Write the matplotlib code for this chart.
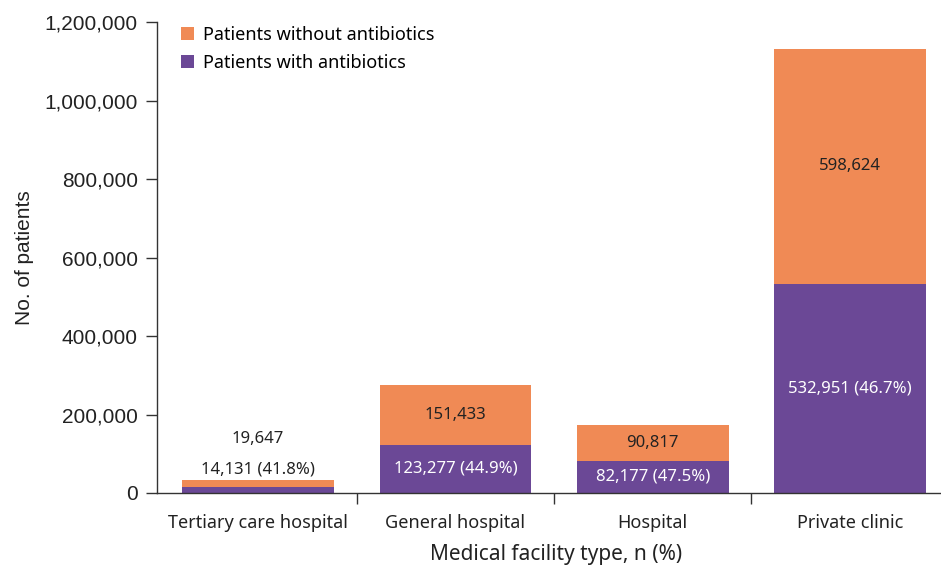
import matplotlib.pyplot as plt
from matplotlib.ticker import FuncFormatter, FixedLocator
import numpy as np

# Patients per medical facility type
facilities = ["Tertiary care hospital", "General hospital", "Hospital", "Private clinic"]
with_abx = [14131, 123277, 82177, 532951]
without_abx = [19647, 151433, 90817, 598624]
pct_with = [41.8, 44.9, 47.5, 46.7]

orange = "#F08A55"
purple = "#6B4896"
label_font = "Noto Sans"

fig = plt.figure(figsize=(9.41, 5.66), dpi=100)
ax = fig.add_axes([0.167, 0.129, 0.832, 0.832])

x = np.arange(len(facilities))
w = 0.77
b1 = ax.bar(x, with_abx, w, color=purple, label="Patients with antibiotics")
b2 = ax.bar(x, without_abx, w, bottom=with_abx, color=orange, label="Patients without antibiotics")

for i in range(len(facilities)):
    lab_with = f"{with_abx[i]:,} ({pct_with[i]}%)"
    lab_without = f"{without_abx[i]:,}"
    total = with_abx[i] + without_abx[i]
    if total < 60000:
        # bar too short, put numbers above it
        ax.text(x[i], total + 26000, lab_with, ha="center", va="center",
                fontsize=12, color="#222222", family=label_font)
        ax.text(x[i], total + 103000, lab_without, ha="center", va="center",
                fontsize=12, color="#222222", family=label_font)
    else:
        ax.text(x[i], with_abx[i] / 2, lab_with, ha="center", va="center",
                fontsize=12, color="white", family=label_font)
        ax.text(x[i], with_abx[i] + without_abx[i] / 2, lab_without, ha="center", va="center",
                fontsize=12, color="#222222", family=label_font)

ax.set_xlim(-0.512, 3.456)
ax.set_ylim(0, 1200000)
ax.set_yticks(np.arange(0, 1200001, 200000))
ax.yaxis.set_major_formatter(FuncFormatter(lambda v, p: f"{int(v):,}"))
for t in ax.get_yticklabels():
    t.set_family("Liberation Sans")
    t.set_fontsize(15)
    t.set_color("#222222")

# ticks between categories, labels under bars
ax.xaxis.set_major_locator(FixedLocator([0.5, 1.5, 2.5]))
ax.xaxis.set_major_formatter(FuncFormatter(lambda v, p: ""))
ax.xaxis.set_minor_locator(FixedLocator(x))
ax.set_xticklabels(facilities, minor=True, fontsize=13, family=label_font, color="#222222")
ax.tick_params(axis="x", which="major", length=8, width=1, color="#333333")
ax.tick_params(axis="x", which="minor", length=0, pad=15)
ax.tick_params(axis="y", length=8, width=1, color="#333333", pad=6)

for s in ["top", "right"]:
    ax.spines[s].set_visible(False)
for s in ["left", "bottom"]:
    ax.spines[s].set_color("#333333")
    ax.spines[s].set_linewidth(1)

ax.set_ylabel("No. of patients", fontsize=15, family="Liberation Sans", color="#222222")
ax.yaxis.set_label_coords(-0.157, 0.5)
ax.set_xlabel("Medical facility type, n (%)", fontsize=15, family=label_font,
              color="#222222", va="center")
ax.xaxis.set_label_coords(0.51, -0.131)

handles = [b2, b1]
ax.legend(handles, [h.get_label() for h in handles], loc="upper left",
          bbox_to_anchor=(0.01, 1.027), frameon=False, handlelength=0.7,
          handleheight=0.7, handletextpad=0.5, labelspacing=0.55,
          prop={"family": label_font, "size": 13})

fig.savefig("out.png", dpi=100)
